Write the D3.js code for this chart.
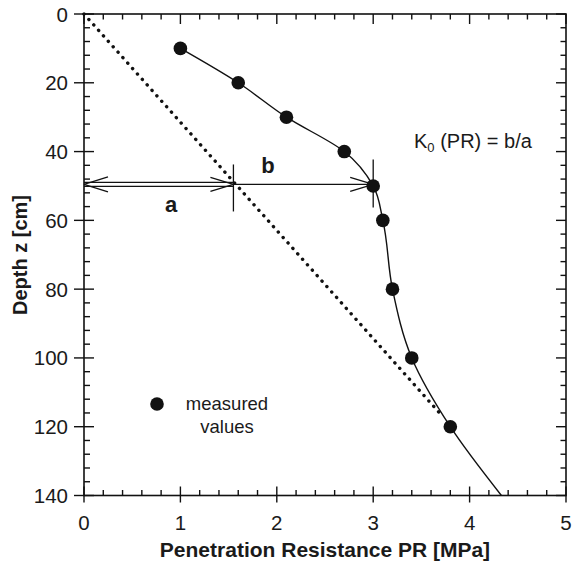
<!DOCTYPE html>
<html><head><meta charset="utf-8">
<script src="https://cdn.jsdelivr.net/npm/d3@7"></script>
<style>body{margin:0;background:#fff}svg{display:block}text{font-family:"Liberation Sans",Arial,Helvetica,sans-serif;fill:#1a1a1a}</style>
</head><body>
<script>
// Measured values
const prValues = [1.0, 1.6, 2.1, 2.7, 3.0, 3.1, 3.2, 3.4, 3.8];
const depthValues = [10, 20, 30, 40, 50, 60, 80, 100, 120];
// Extrapolated end of fitted curve
const curveEndPR = 4.33, curveEndDepth = 140;
// Reference (dotted) straight line
const refLinePR = [0, 3.72];
const refLineDepth = [0, 117];
// Construction for K0
const constructionDepth = 50;
const aValue = 1.55, bEnd = 3.0;
const xTicks = [0, 1, 2, 3, 4, 5];
const yTicks = [0, 20, 40, 60, 80, 100, 120, 140];

const W = 574, H = 564;
const svg = d3.select("body").append("svg").attr("width", W).attr("height", H);
const x = d3.scaleLinear().domain([0, 5]).range([84, 566]);
const y = d3.scaleLinear().domain([0, 140]).range([14, 495.5]);
const [x0, x1] = x.range(), [y0, y1] = y.range();
const ink = "#111";

const g = svg.append("g");
g.append("rect").attr("x", x0).attr("y", y0).attr("width", x1 - x0).attr("height", y1 - y0)
  .attr("fill", "none").attr("stroke", ink).attr("stroke-width", 1.6);

const xMinor = d3.range(0, 5.0001, 0.2);
const yMinor = d3.range(0, 140.001, 4);
xMinor.forEach(v => {
  const major = Math.abs(v - Math.round(v)) < 1e-6;
  g.append("line").attr("x1", x(v)).attr("x2", x(v)).attr("y1", y1 + (major ? 7 : 0)).attr("y2", y1 - (major ? 9 : 5.5)).attr("stroke", ink).attr("stroke-width", 1.4);
  g.append("line").attr("x1", x(v)).attr("x2", x(v)).attr("y1", y0).attr("y2", y0 + (major ? 10 : 5.5)).attr("stroke", ink).attr("stroke-width", 1.4);
});
yMinor.forEach(v => {
  const major = v % 20 === 0;
  g.append("line").attr("y1", y(v)).attr("y2", y(v)).attr("x1", x0 - (major ? 10 : 0)).attr("x2", x0 + (major ? 10 : 6)).attr("stroke", ink).attr("stroke-width", 1.4);
  g.append("line").attr("y1", y(v)).attr("y2", y(v)).attr("x1", x1).attr("x2", x1 - (major ? 10 : 5.5)).attr("stroke", ink).attr("stroke-width", 1.4);
});

g.selectAll(".xl").data(xTicks).enter().append("text")
  .attr("x", d => x(d)).attr("y", y1 + 34).attr("text-anchor", "middle").attr("font-size", 20.5).text(d => d);
g.selectAll(".yl").data(yTicks).enter().append("text")
  .attr("x", x0 - 16).attr("y", d => y(d) + 7.5).attr("text-anchor", "end").attr("font-size", 20.5).text(d => d);

svg.append("text").attr("x", 325).attr("y", 557).attr("text-anchor", "middle")
  .attr("font-size", 21).attr("font-weight", "bold").text("Penetration Resistance PR [MPa]");
svg.append("text").attr("transform", `translate(27,255) rotate(-90)`).attr("text-anchor", "middle")
  .attr("font-size", 20).attr("font-weight", "bold").text("Depth z [cm]");

const refPts = [0, 1].map(i => [x(refLinePR[i]), y(refLineDepth[i])]);
g.append("line").attr("x1", refPts[0][0]).attr("y1", refPts[0][1]).attr("x2", refPts[1][0]).attr("y2", refPts[1][1])
  .attr("stroke", ink).attr("stroke-width", 3.4).attr("stroke-linecap", "round").attr("stroke-dasharray", "0.1 7.2");

const curvePts = prValues.map((p, i) => [p, depthValues[i]]).concat([[curveEndPR, curveEndDepth]]);
const line = d3.line().x(d => x(d[0])).y(d => y(d[1])).curve(d3.curveMonotoneY);
g.append("path").attr("d", line(curvePts)).attr("fill", "none").attr("stroke", ink).attr("stroke-width", 1.4);

const yc = y(constructionDepth) - 1.5;
const xa = x(aValue), xb = x(bEnd), xz = x(0);
const L = (x1_, y1_, x2_, y2_, w) => g.append("line").attr("x1", x1_).attr("y1", y1_).attr("x2", x2_).attr("y2", y2_).attr("stroke", ink).attr("stroke-width", w || 1.3);
L(xz, yc - 2, xa, yc - 2); L(xz, yc + 2, xa, yc + 2);
L(xz, yc, xz + 24, yc - 7.5); L(xz, yc, xz + 24, yc + 7.5);
L(xa, yc, xa - 23, yc - 7); L(xa, yc, xa - 23, yc + 7);
L(xa, yc, xb, yc);
L(xb, yc, xb - 23, yc - 7); L(xb, yc, xb - 23, yc + 7);
L(xa, yc - 20, xa, yc + 27);
L(xb, yc - 25, xb, yc + 23);

g.selectAll(".pt").data(prValues).enter().append("circle")
  .attr("cx", d => x(d)).attr("cy", (d, i) => y(depthValues[i])).attr("r", 6.8).attr("fill", ink);

g.append("text").attr("x", 171).attr("y", 212).attr("text-anchor", "middle").attr("font-size", 22).attr("font-weight", "bold").text("a");
g.append("text").attr("x", 268).attr("y", 173).attr("text-anchor", "middle").attr("font-size", 22).attr("font-weight", "bold").text("b");

const kt = g.append("text").attr("x", 414).attr("y", 148).attr("font-size", 20);
kt.append("tspan").text("K");
kt.append("tspan").attr("font-size", 13).attr("dy", 4).text("0");
kt.append("tspan").attr("dy", -4).text(" (PR) = b/a");

g.append("circle").attr("cx", 157).attr("cy", 404).attr("r", 6.8).attr("fill", ink);
g.append("text").attr("x", 227).attr("y", 410).attr("text-anchor", "middle").attr("font-size", 18.5).text("measured");
g.append("text").attr("x", 227).attr("y", 433).attr("text-anchor", "middle").attr("font-size", 18.5).text("values");
</script>
</body></html>
